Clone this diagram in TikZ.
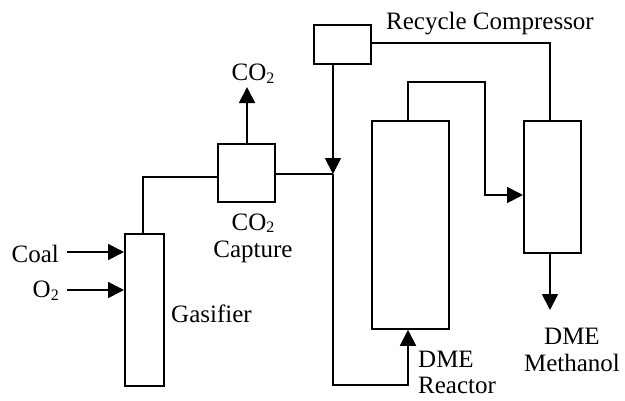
\documentclass[tikz,border=0pt]{standalone}
\usepackage{fontspec}
\setmainfont{Liberation Serif}
\usetikzlibrary{arrows.meta}
\newcommand{\sbtwo}{\raisebox{-0.25ex}{\fontsize{16}{16}\selectfont 2}}
\begin{document}
\begin{tikzpicture}[x=1pt,y=-1pt,
  unit/.style={draw,line width=1.8pt,inner sep=0pt,anchor=north west},
  pipe/.style={line width=1.8pt},
  flow/.style={line width=1.8pt,-{Triangle[length=16pt,width=16pt]}},
  lab/.style={font=\fontsize{25}{27}\selectfont,inner sep=0pt}]
\useasboundingbox (0,0) rectangle (625,400);
% units
\node[unit,minimum width=57pt,minimum height=39pt] (comp) at (313,24) {};
\node[unit,minimum width=57pt,minimum height=58pt] (cap) at (217,143) {};
\node[unit,minimum width=39pt,minimum height=152pt] (gas) at (124,233) {};
\node[unit,minimum width=77pt,minimum height=208pt] (reac) at (371,120) {};
\node[unit,minimum width=57pt,minimum height=132pt] (sep) at (523,120) {};
% labels
\node[lab,anchor=east] (coal) at (59,254) {Coal};
\node[lab,anchor=east] (o2) at (59,291) {O\sbtwo};
\node[lab,anchor=west] (gasl) at (171,314) {Gasifier};
\node[lab,align=center] (capl) at (253,238) {CO\sbtwo\\Capture};
\node[lab] (co2) at (253,74) {CO\sbtwo};
\node[lab,anchor=west] (compl) at (386,24) {Recycle Compressor};
\node[lab,align=left,anchor=west,font=\fontsize{25}{26}\selectfont] (reacl) at (418,372) {DME\\Reactor};
\node[lab,align=center] (sepl) at (572,350) {DME\\Methanol};
% coordinates
\coordinate (mix) at (333,174);
\coordinate (coalS) at (67,252);
\coordinate (o2S) at (67,290);
\coordinate (co2T) at (247,87);
\coordinate (prod) at (550,310);
% streams
\draw[flow] (coalS) -- (coalS -| gas.west);
\draw[flow] (o2S) -- (o2S -| gas.west);
\draw[pipe] (gas.north -| 143,0) |- (cap.west |- 0,177);
\draw[flow] (cap.north -| co2T) -- (co2T);
\draw[pipe] (cap.east |- mix) -- (mix);
\draw[flow] (comp.south -| mix) -- (mix);
\draw[flow] (mix) |- (408,385) -- (reac.south -| 408,0);
\draw[flow] (reac.north -| 408,0) |- (485,82) |- (sep.west |- 0,195);
\draw[pipe] (comp.east |- 0,43) -| (sep.north -| 550,0);
\draw[flow] (sep.south -| prod) -- (prod);
\end{tikzpicture}
\end{document}
